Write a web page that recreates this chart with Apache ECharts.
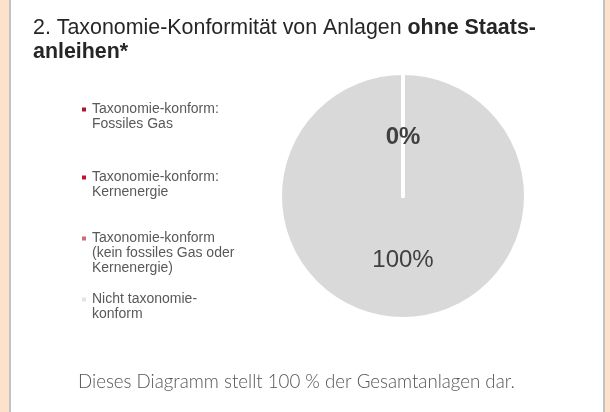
<!DOCTYPE html>
<html>
<head>
<meta charset="utf-8">
<script src="https://cdn.jsdelivr.net/npm/echarts@6/dist/echarts.min.js"></script>
<style>
  html, body { margin: 0; padding: 0; }
  body { width: 610px; height: 412px; background: #fde1cb; position: relative; overflow: hidden; }
  #panel { position: absolute; left: 9px; top: 0; width: 592px; height: 412px; background: #ffffff;
           border-left: 2px solid #c3c3c3; border-right: 2px solid #c3c3c3; }
  #chart { position: absolute; left: 0; top: 0; width: 610px; height: 412px; }
</style>
</head>
<body>
<div id="panel"></div>
<div id="chart"></div>
<script>
// Shares of investments (excluding government bonds), in percent
const categories = [
  'Taxonomie-konform: Fossiles Gas',
  'Taxonomie-konform: Kernenergie',
  'Taxonomie-konform (kein fossiles Gas oder Kernenergie)',
  'Nicht taxonomie-konform'
];
const legendLines = [
  ['Taxonomie-konform:', 'Fossiles Gas'],
  ['Taxonomie-konform:', 'Kernenergie'],
  ['Taxonomie-konform', '(kein fossiles Gas oder', 'Kernenergie)'],
  ['Nicht taxonomie-', 'konform']
];
const values = [0, 0, 0, 100];
const colors = ['#a8182f', '#c0142d', '#cf6b79', '#d9d9d9'];
const legendTops = [102, 170, 231, 292];

const chart = echarts.init(document.getElementById('chart'), null, { renderer: 'canvas' });

const FONT = 'Liberation Sans, Arial, sans-serif';

const legends = categories.map((name, i) => {
  const rich = {
    d: { width: 4, height: 4, backgroundColor: i === 3 ? '#e4e4e4' : colors[i] },
    s: { width: 6 },
    p: { width: 10 },
    t: { fontFamily: FONT, fontSize: 14, color: '#595959', lineHeight: 15 }
  };
  return {
    left: 77,
    top: legendTops[i],
    padding: 0,
    orient: 'vertical',
    icon: 'none',
    itemWidth: 0,
    itemHeight: 0,
    selectedMode: false,
    data: [name],
    formatter: () => legendLines[i]
      .map((line, k) => (k === 0 ? '{d|}{s|}' : '{p|}') + '{t|' + line + '}')
      .join('\n'),
    textStyle: { rich: rich, lineHeight: 15 }
  };
});

// The large slice goes first so the borders of the empty slices stay on top of it
const drawOrder = [3, 0, 1, 2];

chart.setOption({
  animation: false,
  title: [
    {
      left: 33,
      top: 16,
      padding: 0,
      text: '{n|2. Taxonomie-Konformität von Anlagen }{b|ohne Staats-}\n{b|anleihen*}',
      textStyle: {
        fontWeight: 'normal',
        rich: {
          n: { fontFamily: FONT, fontSize: 21.4, fontWeight: 'normal', color: '#262626', lineHeight: 24 },
          b: { fontFamily: FONT, fontSize: 21.4, fontWeight: 'bold', color: '#262626', lineHeight: 24 }
        }
      }
    },
    {
      left: 78,
      top: 372,
      padding: 0,
      text: 'Dieses Diagramm stellt 100 % der Gesamtanlagen dar.',
      textStyle: { fontFamily: 'Lato, sans-serif', fontSize: 18.7, fontWeight: 300, color: '#555555' }
    }
  ],
  legend: legends,
  series: [{
    type: 'pie',
    center: [403, 196],
    radius: 123,
    startAngle: 90,
    clockwise: true,
    silent: true,
    itemStyle: { borderColor: '#ffffff', borderWidth: 4 },
    label: {
      show: true,
      position: 'inside',
      formatter: p => p.value + '%',
      fontFamily: FONT,
      fontSize: 24,
      color: '#404040'
    },
    labelLine: { show: false },
    data: drawOrder.map(i => ({
      name: categories[i],
      value: values[i],
      itemStyle: { color: colors[i] },
      label: i === 0 ? { fontWeight: 'bold', offset: [0, 6] } : (i < 3 ? { show: false } : {})
    }))
  }]
});
</script>
</body>
</html>
